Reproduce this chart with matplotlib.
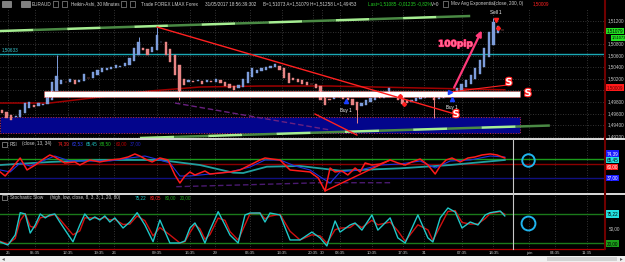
import numpy as np
import matplotlib.pyplot as plt
import matplotlib.patheffects as pe
from matplotlib.lines import Line2D
from matplotlib.patches import Rectangle

W, H = 625, 262
plt.rcParams['font.family'] = ['Liberation Sans', 'DejaVu Sans']
FS = 3.3

# EURAUD Heikin-Ashi closes, one value per hour
ha_close = [
    1.49609, 1.49522, 1.49488, 1.49557, 1.49660, 1.49781, 1.49798, 1.49712, 1.49781, 1.49764,
    1.49902, 1.50143, 1.50247, 1.50178, 1.50143, 1.50195, 1.50109, 1.50178, 1.50281, 1.50212,
    1.50316, 1.50350, 1.50384, 1.50384, 1.50402, 1.50436, 1.50419, 1.50471, 1.50557, 1.50729,
    1.50833, 1.50695, 1.50609, 1.50747, 1.50953, 1.50833, 1.50609, 1.50488, 1.50264, 1.49971,
    1.50091, 1.50178, 1.50143, 1.50178, 1.50109, 1.50178, 1.50143, 1.50195, 1.50126, 1.50074,
    1.50040, 1.50005, 1.50091, 1.50195, 1.50316, 1.50384, 1.50350, 1.50384, 1.50402, 1.50419,
    1.50453, 1.50350, 1.50212, 1.50126, 1.50178, 1.50143, 1.50109, 1.50091, 1.50109, 1.50040,
    1.49833, 1.49747, 1.49833, 1.49919, 1.49884, 1.49850, 1.49833, 1.49747, 1.49660, 1.49781,
    1.49833, 1.49867, 1.49936, 1.49867, 1.49953, 1.50040, 1.49919, 1.49833, 1.49764, 1.49781,
    1.49833, 1.49867, 1.49884, 1.49902, 1.49884, 1.49833, 1.49884, 1.49936, 1.49953, 1.49971,
    1.50040, 1.50109, 1.50178, 1.50264, 1.50384, 1.50522, 1.50729, 1.51005, 1.51178, 1.51109,
    1.51040,
]
first_open = 1.49660

# the long wicks that stick out
wick_idx = [12, 30, 34, 39, 78, 95, 108]
wick_lo = [1.50200, 1.50750, 1.50800, 1.49833, 1.49436, 1.49522, 1.51000]
wick_hi = [1.50608, 1.50919, 1.51091, 1.50200, 1.49750, 1.49880, 1.51247]

# Mov Avg Exponential (close, 200)
ema_x = [-0.4, 10.5, 21.5, 32.5, 43.5, 56.7, 72.1, 91.9, 110.5]
ema_y = [1.49781, 1.49781, 1.49884, 1.49988, 1.50057, 1.50074, 1.50074, 1.50040, 1.50009]

# time axis
tick_pos = [1.3, 7.3, 14.5, 21.3, 24.6, 34, 41.3, 46.8, 54.5, 61.5, 68.4, 70.3, 74.3,
            81.3, 88.1, 92.7, 101, 108, 115.8, 121.5, 128.6]
tick_lbl = ['25', '05:35', '12:35', '19:35', '26', '09:35', '16:35', '29', '06:35', '13:35',
            '20:35', '30', '03:35', '10:35', '17:35', '31', '07:35', '14:35', 'juin', '04:35', '11:35']

price_ticks = [1.512, 1.510, 1.508, 1.506, 1.504, 1.502, 1.500, 1.498, 1.496, 1.494, 1.492]
# 1,51000 and 1,50000 sit under the price flags
price_hidden = [1.510, 1.500]

# RSI-type oscillator (close, 13, 34)
rsi_x = [-0.4, 0.7, 2.2, 4.0, 5.5, 7.3, 8.8, 10.5, 11.6, 13.8, 16.0, 17.1, 19.3, 21.5, 23.7,
         25.9, 27.7, 29.2, 30.3, 31.9, 33.0, 34.7, 36.5, 38.0, 39.1, 40.2, 41.3, 42.4, 43.5,
         44.6, 45.7, 47.9, 50.1, 52.3, 54.5, 56.7, 57.8, 59.3, 61.1, 62.2, 63.3, 65.5, 67.7,
         69.5, 71.0, 72.1, 73.2, 74.7, 76.0, 77.6, 78.7, 79.8, 81.3, 83.1, 85.3, 87.0, 88.6,
         90.1, 91.9, 93.6, 95.2, 96.3, 97.6, 98.9, 100.7, 102.4, 103.9, 105.5, 107.3, 108.8, 110.5]
rsi_fast = [46.8, 39.9, 53.6, 70.7, 50.2, 58.7, 67.3, 75.9, 72.4, 62.2, 63.9, 58.7, 67.3, 63.9,
            67.3, 69.0, 72.4, 77.6, 74.1, 67.3, 63.9, 70.7, 67.3, 41.6, 27.9, 39.9, 46.8, 41.6,
            45.0, 48.5, 43.3, 45.0, 46.8, 50.2, 58.7, 67.3, 70.7, 69.0, 67.3, 58.7, 50.2, 48.5,
            46.8, 36.5, 14.3, 53.6, 46.8, 48.5, 41.6, 53.6, 46.8, 62.2, 58.7, 60.4, 67.3, 62.2,
            58.7, 63.9, 69.0, 58.7, 43.3, 57.0, 67.3, 70.7, 63.9, 70.7, 72.4, 75.9, 77.6, 75.9, 70.7]
slow_x = [-0.4, 1.8, 4.0, 6.2, 8.4, 11.6, 14.9, 19.3, 23.7, 28.1, 31.4, 34.7, 36.9, 39.1, 41.3,
          45.7, 50.1, 54.5, 57.8, 61.1, 64.4, 67.7, 70.3, 72.1, 74.3, 78.7, 83.1, 87.5, 91.9,
          95.2, 98.5, 102.9, 107.3, 110.5]
rsi_slow = [50.2, 46.8, 62.2, 57.0, 63.9, 74.1, 65.6, 65.6, 65.6, 70.7, 74.1, 67.3, 62.2, 39.9,
            39.9, 43.3, 46.8, 55.3, 67.3, 67.3, 57.0, 50.2, 36.5, 27.9, 46.8, 50.2, 58.7, 60.4,
            65.6, 53.6, 65.6, 67.3, 74.1, 72.4]
sig_x = [-0.4, 10.5, 21.5, 34.7, 43.5, 50.8, 53.0, 58.2, 65.5, 74.3, 87.5, 98.5, 110.5]
rsi_sig = [58.7, 63.9, 67.3, 67.3, 58.7, 45.6, 45.0, 55.8, 57.0, 49.0, 53.0, 58.7, 67.3]
low_x = [38.3, 54.5, 69.9, 85.7]
rsi_low = [21.6, 25.0, 28.4, 28.4]

# Stochastic Slow (8, 3, 3)
sto_x = [-0.4, 1.3, 2.9, 4.0, 5.1, 6.2, 7.3, 8.4, 9.5, 10.5, 11.6, 12.7, 15.6, 17.1, 18.2, 19.3,
         20.4, 21.5, 22.6, 23.7, 24.8, 26.6, 28.1, 29.7, 31.4, 33.2, 34.7, 36.9, 39.1, 40.2, 41.3,
         42.4, 43.5, 44.6, 45.7, 47.5, 49.0, 50.1, 51.9, 53.4, 54.5, 56.7, 57.8, 58.9, 61.1, 63.3,
         65.5, 68.1, 69.9, 71.4, 73.2, 74.3, 76.5, 77.6, 79.1, 81.3, 82.6, 85.3, 87.0, 88.6, 91.4,
         93.6, 94.7, 96.3, 98.0, 99.6, 101.1, 102.9, 104.6, 106.2, 107.3, 109.5, 110.5]
sto_k = [22.7, 16.5, 37, 82.7, 80, 41, 57.5, 80, 72, 78, 80, 63.6, 23, 57.5, 80, 67.7, 74, 67.7,
         76, 63.6, 72, 51.3, 63.6, 82.7, 57.5, 23.3, 67.7, 20.6, 20.6, 24.7, 51.3, 61.6, 43, 20.6,
         47, 84.7, 57.5, 37, 20.6, 78, 82, 82, 63.6, 82, 78, 26.8, 26.8, 43, 31, 14.5, 65.7, 43,
         57.5, 61.6, 47, 78, 47, 72, 31, 20.6, 78, 31, 22.7, 72, 92.3, 84, 51.3, 63.6, 57.5, 78,
         82.7, 86, 76]
sto_d = [24, 18.7, 29.9, 66.7, 80.9, 54.7, 51.8, 72.1, 74.8, 75.9, 79.3, 69.3, 37.3, 45.4, 72.1,
         72, 71.8, 69.9, 73.1, 67.9, 69.1, 58.5, 59.3, 76.1, 66.3, 35.2, 52.2, 37.1, 20.6, 23.3,
         41.9, 58, 49.6, 28.4, 37.8, 71.6, 67, 44.1, 26.4, 57.9, 80.6, 82, 70, 75.6, 79.4, 44.7,
         26.8, 37.4, 35.2, 20.3, 47.8, 51, 52.4, 60.1, 52.2, 67.2, 57.9, 63.3, 45.4, 24.3, 57.9,
         47.5, 25.7, 54.7, 85.2, 86.9, 62.7, 59.3, 59.7, 70.8, 81.1, 84.8, 79.5]


def fx(px):
    return px / W


def fy(py):
    return 1 - py / H


def box(x0, y0, x1, y1):
    return [fx(x0), fy(y1), fx(x1) - fx(x0), fy(y0) - fy(y1)]


fig = plt.figure(figsize=(W / 100, H / 100), dpi=100, facecolor='black')
ax = fig.add_axes(box(0, 8, 604, 138))
ax1 = fig.add_axes(box(0, 140, 604, 193))
ax2 = fig.add_axes(box(0, 195, 604, 249))
for a in (ax, ax1, ax2):
    a.set_facecolor('black')
    a.set_xlim(-0.44, 132.3)
    a.set_xticks([])
    a.set_yticks([])
    for s in a.spines.values():
        s.set_visible(False)
    for t in tick_pos:
        a.axvline(t, color='#444444', lw=0.6, ls=(0, (1, 2)), zorder=0)

# ---------------- price panel ----------------
ax.set_ylim(1.49178, 1.51419)
ytr = ax.get_yaxis_transform()
for p in price_ticks:
    ax.axhline(p, color='#444444', lw=0.6, ls=(0, (1, 2)), zorder=0)
    if p in price_hidden:
        continue
    ax.text(1.006, p, ('%.5f' % p).replace('.', ','), transform=ytr,
            color='#c8c8c8', fontsize=FS, va='center', ha='left', clip_on=False)

close = np.array(ha_close)
opn = [first_open]
for c in ha_close[:-1]:
    opn.append((opn[-1] + c) / 2)
opn = np.array(opn)
idx = np.arange(len(close))
cols = np.where(close >= opn, '#7d9ddb', '#e88585')

ax.add_patch(Rectangle((-0.44, 1.49264), 114.2, 0.00276, facecolor='#03058c',
                       edgecolor='#c03050', ls=':', lw=0.7, zorder=1))
ax.axhline(1.50633, color='#1aa8b4', lw=1.0, zorder=2)
ax.text(0.003, 1.50650, '1,50633', transform=ytr, color='#38c8d0',
        fontsize=FS, va='bottom', ha='left')

ax.vlines(wick_idx, wick_lo, wick_hi, colors=[cols[i] for i in wick_idx], lw=0.7, zorder=3)
ax.bar(idx, close - opn, bottom=opn, width=0.5, color=cols, edgecolor=cols, lw=0.3, zorder=3)


def channel(xs, ys, n):
    tx = np.linspace(xs[0], xs[1], n + 1)
    ty = np.linspace(ys[0], ys[1], n + 1)
    for k in range(n):
        ax.plot(tx[k:k + 2], ty[k:k + 2], color=['#a6ee92', '#4a8a44'][k % 2], lw=1.8,
                solid_capstyle='butt', zorder=2)


channel([-0.44, 102.9], [1.51022, 1.51281], 14)
channel([30.3, 120.4], [1.49178, 1.49393], 12)

ax.plot(ema_x, ema_y, color='#a00000', lw=1.1, zorder=2)
ax.add_patch(Rectangle((9.2, 1.49893), 104.6, 0.00095, facecolor='white',
                       edgecolor='#ff4040', ls=':', lw=0.6, zorder=4))

ax.plot([34.1, 99.6], [1.51091, 1.49590], color='#ff2020', lw=1.0, zorder=5)
ax.plot([68.8, 78.0], [1.49591, 1.49229], color='#ff2020', lw=1.0, zorder=5)
ax.plot([98.5, 111.0], [1.49971, 1.50091], color='#ff2020', lw=0.8, zorder=5)
ax.plot([38.0, 72.1], [1.49781, 1.49316], color='#6a2080', lw=1.0, ls=(0, (4, 2)), zorder=2)

ax.annotate('', xy=(105.7, 1.51074), xytext=(99.1, 1.50005),
            arrowprops=dict(arrowstyle='-|>', color='#ff3a7a', lw=1.6, mutation_scale=8), zorder=6)
ax.text(99.6, 1.50798, '100pip', color='#ff6a95', fontsize=6.5, fontweight='bold',
        ha='center', va='center', family=['DejaVu Sans'], zorder=6,
        path_effects=[pe.withStroke(linewidth=0.8, foreground='#ff2060')])

for sx, sy in [(111.4, 1.50143), (115.6, 1.49953), (99.8, 1.49590)]:
    ax.text(sx, sy, 'S', color='white', fontsize=7, fontweight='bold', ha='center', va='center',
            family=['DejaVu Sans'], zorder=7,
            path_effects=[pe.withStroke(linewidth=1.6, foreground='#ff2020')])

ax.plot([108.6], [1.51212], marker='v', color='#ff2020', ms=3, zorder=7)
ax.text(108.6, 1.51298, 'Sell 1', color='white', fontsize=FS, ha='center', va='bottom', zorder=7)
ax.plot([98.9, 75.6], [1.49850, 1.49816], ls='none', marker='^', color='#1a40ff', ms=3, zorder=7)
ax.text(98.9, 1.49747, 'Buy 1', color='white', fontsize=FS, ha='center', va='top', zorder=7)
ax.text(75.6, 1.49695, 'Buy 1', color='white', fontsize=FS, ha='center', va='top', zorder=7)
ax.plot([98.5], [1.49971], marker='>', color='#1a40ff', ms=3, zorder=7)
ax.plot([87.5, 88.4, 109.0], [1.49902, 1.49764, 1.51074], ls='none', marker='D',
        color='#ff2020', ms=2, zorder=7)

# price flags on the right scale
ax.text(1.004, 1.51022, '1,51079', transform=ytr, fontsize=FS, color='black', va='center',
        ha='left', clip_on=False, zorder=8,
        bbox=dict(boxstyle='square,pad=0.2', fc='#22e022', ec='none'))
ax.text(1.012, 1.50902, '1,51073', transform=ytr, fontsize=2.9, color='black', va='center',
        ha='left', clip_on=False, zorder=8,
        bbox=dict(boxstyle='square,pad=0.15', fc='#22e022', ec='none'))
ax.text(1.004, 1.50050, '1,50009', transform=ytr, fontsize=FS, color='#600000', va='center',
        ha='left', clip_on=False, zorder=8,
        bbox=dict(boxstyle='square,pad=0.25', fc='#ff1a1a', ec='none'))

# ---------------- oscillator panel ----------------
ax1.set_ylim(10.8, 101.5)
ax1.axhline(68.5, color='#1a9a1a', lw=1.0)
ax1.axhline(60, color='#8b0000', lw=1.0)
ax1.axhline(37, color='#101080', lw=1.0)
ax1.plot(low_x, rsi_low, color='#4a1a70', lw=1.0, ls=(0, (4, 2)))
ax1.plot(sig_x, rsi_sig, color='#20a0a0', lw=1.3)
ax1.plot(slow_x, rsi_slow, color='#2030e0', lw=0.8)
ax1.plot(rsi_x, rsi_fast, color='#ff1a1a', lw=1.1)
ax1.plot([71.0, 85.3], [14.3, 67.3], color='#ff1a1a', lw=1.0)

for v, lbl, fc, tc in [(78.5, '74,39', '#1a1aff', 'white'), (67.3, '65,45', '#22e0e0', 'black'),
                       (55.3, '60,00', '#ff1a1a', 'white'), (36.5, '37,00', '#1a1aff', 'white')]:
    ax1.text(1.004, v, lbl, transform=ax1.get_yaxis_transform(), fontsize=FS, color=tc,
             va='center', ha='left', clip_on=False,
             bbox=dict(boxstyle='square,pad=0.15', fc=fc, ec='none'))

# ---------------- stochastic panel ----------------
ax2.set_ylim(8.3, 118.9)
ax2.axhline(80, color='#1a7a1a', lw=1.0)
ax2.axhline(20, color='#1a7a1a', lw=1.0)
ax2.plot(sto_x, sto_d, color='#d01010', lw=1.0)
ax2.plot(sto_x, sto_k, color='#20c8c8', lw=1.0)
ax2.text(1.004, 80, '75,22', transform=ax2.get_yaxis_transform(), fontsize=FS, color='black',
         va='center', ha='left', clip_on=False,
         bbox=dict(boxstyle='square,pad=0.25', fc='#22e0e0', ec='none'))
ax2.text(1.008, 50, '50,00', transform=ax2.get_yaxis_transform(), fontsize=FS,
         color='#c8c8c8', va='center', ha='left', clip_on=False)
ax2.text(1.004, 20, '20,00', transform=ax2.get_yaxis_transform(), fontsize=FS, color='black',
         va='center', ha='left', clip_on=False,
         bbox=dict(boxstyle='square,pad=0.25', fc='#1aa01a', ec='none'))

# time labels
for t, lbl in zip(tick_pos, tick_lbl):
    ax2.text(t, -0.065, lbl, transform=ax2.get_xaxis_transform(), color='#c8c8c8',
             fontsize=3.1, ha='center', va='center', clip_on=False)

# ---------------- frame, separators, headers ----------------
fig.add_artist(Line2D([0, 1], [fy(139), fy(139)], color='white', lw=1.2))
fig.add_artist(Line2D([0, 1], [fy(194), fy(194)], color='white', lw=1.2))
fig.add_artist(Line2D([0, fx(604)], [fy(249), fy(249)], color='#b00000', lw=0.9))
fig.add_artist(Line2D([fx(604.5)] * 2, [fy(0), fy(249)], color='#700000', lw=1.5))
fig.add_artist(Line2D([fx(513)] * 2, [fy(139), fy(249)], color='#c8c8c8', lw=0.8))
for cy, ms in [(160, 9), (223, 10)]:
    fig.add_artist(Line2D([fx(528)], [fy(cy)], marker='o', ms=ms, mfc='none',
                          mec='#1fb4ee', mew=1.4))

fig.add_artist(Rectangle((0, 0), 1, fy(256), transform=fig.transFigure, fc='#f0f0f0', ec='none'))
fig.add_artist(Rectangle((fx(547), fy(261)), fx(617) - fx(547), fy(257) - fy(261),
                         transform=fig.transFigure, fc='#d2d2d2', ec='none'))
fig.text(fx(3), fy(259), '\u25c2', color='#606060', fontsize=4, va='center', ha='center',
         family=['DejaVu Sans'])
fig.text(fx(621), fy(259), '\u25b8', color='#606060', fontsize=4, va='center', ha='center',
         family=['DejaVu Sans'])

HY = fy(4)
for x0 in (2, 21):
    fig.add_artist(Rectangle((fx(x0), fy(7)), fx(9), fy(1) - fy(7), transform=fig.transFigure,
                             fc='#808080', ec='#b0b0b0', lw=0.4))
for x0 in (53, 62, 121, 130, 443):
    fig.add_artist(Rectangle((fx(x0), fy(7)), fx(5), fy(1) - fy(7), transform=fig.transFigure,
                             fc='black', ec='#b0b0b0', lw=0.4))
hdr = [(32, 'EURAUD', '#d0d0d0'), (71, 'Heikin-Ashi, 30 Minutes', '#d0d0d0'),
       (141, 'Trade FOREX LMAX Forex', '#d0d0d0'),
       (205, '31/05/2017 18:56:39:302', '#d0d0d0'),
       (263, 'B=1,51073 A=1,51079 H=1,51258 L=1,49453', '#d0d0d0'),
       (368, 'Last=1,51085 -0,01235 -0,82%', '#22d022'), (431, 'V=0', '#d0d0d0'),
       (451, 'Mov Avg Exponential', '#d0d0d0'), (494, '(close, 200, 0)', '#d0d0d0'),
       (533, '1,50009', '#ff2020')]
for x0, s, c in hdr:
    fig.text(fx(x0), HY, s, color=c, fontsize=FS, va='center', ha='left')

for x0, y0 in [(2, 144), (2, 197.5)]:
    fig.add_artist(Rectangle((fx(x0), fy(y0 + 2.5)), fx(5), fy(y0 - 2.5) - fy(y0 + 2.5),
                             transform=fig.transFigure, fc='black', ec='#c0c0c0', lw=0.4))
p1 = [(10, 'RSI', '#d0d0d0'), (22, '(close, 13, 34)', '#d0d0d0'), (58, '74,39', '#ff2020'),
      (72, '62,53', '#3040ff'), (86, '65,45', '#20c8c8'), (100, '68,50', '#20c020'),
      (116, '60,00', '#c00000'), (130, '37,00', '#2020c0')]
for x0, s, c in p1:
    fig.text(fx(x0), fy(144), s, color=c, fontsize=FS, va='center', ha='left')
p2 = [(10, 'Stochastic Slow', '#d0d0d0'), (50, '(high, low, close, 8, 3, 3, 1, 20, 80)', '#d0d0d0'),
      (135, '75,22', '#20c8c8'), (150, '80,05', '#ff2020'), (165, '80,00', '#20a020'),
      (180, '20,00', '#20a020')]
for x0, s, c in p2:
    fig.text(fx(x0), fy(197.5), s, color=c, fontsize=FS, va='center', ha='left')

fig.savefig('out.png', dpi=100, facecolor='black')
